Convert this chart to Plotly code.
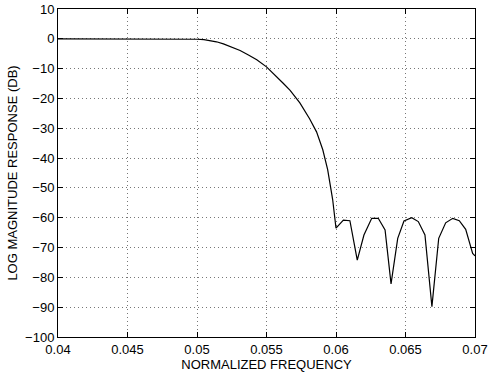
import plotly.graph_objects as go

freq = [0.040, 0.042, 0.044, 0.046, 0.048, 0.0487, 0.0495, 0.0500, 0.0505, 0.0509,
        0.0514, 0.0519, 0.0525, 0.0531, 0.0537, 0.0543, 0.0550, 0.0557, 0.0562,
        0.0567, 0.0574, 0.0581, 0.0586, 0.05905, 0.0594, 0.05964, 0.05976, 0.0600,
        0.06053, 0.0610, 0.06153, 0.06201, 0.06257, 0.06304, 0.06353, 0.06396,
        0.06444, 0.06489, 0.06545, 0.06592, 0.0664, 0.0669, 0.06739, 0.06789,
        0.0684, 0.06887, 0.06933, 0.06983, 0.0700]
mag_db = [0.0, 0.0, -0.03, -0.03, 0.0, -0.05, -0.1, -0.15, -0.3, -0.5,
          -1.0, -1.7, -2.7, -3.9, -5.4, -7.0, -9.4, -12.5, -14.9,
          -17.3, -21.5, -26.8, -31.2, -37.2, -43.9, -50.6, -53.9, -63.5,
          -60.8, -61.0, -74.2, -65.8, -60.2, -60.2, -64.1, -82.2,
          -66.9, -61.1, -60.0, -61.3, -65.8, -89.8, -66.9, -61.7,
          -60.2, -61.0, -63.9, -72.0, -72.8]

x_ticks = [0.04, 0.045, 0.05, 0.055, 0.06, 0.065, 0.07]
x_labels = ["0.04", "0.045", "0.05", "0.055", "0.06", "0.065", "0.07"]
y_ticks = [10, 0, -10, -20, -30, -40, -50, -60, -70, -80, -90, -100]
y_labels = ["10", "0", "\u221210", "\u221220", "\u221230", "\u221240", "\u221250",
            "\u221260", "\u221270", "\u221280", "\u221290", "\u2212100"]

font = dict(family="Liberation Sans, Arial, sans-serif", size=13, color="black")

fig = go.Figure()
fig.add_trace(go.Scatter(x=freq, y=mag_db, mode="lines",
                         line=dict(color="black", width=1.2),
                         showlegend=False))

axis_common = dict(showline=True, linecolor="black", linewidth=1, mirror="ticks",
                   ticks="inside", ticklen=5, tickcolor="black", showgrid=True,
                   gridcolor="#777777", griddash="1px,3px", gridwidth=1, zeroline=False,
                   tickfont=font, automargin=False)

fig.update_xaxes(range=[0.04, 0.07], tickvals=x_ticks, ticktext=x_labels,
                 title=dict(text="NORMALIZED FREQUENCY", font=font, standoff=0),
                 **axis_common)
fig.update_yaxes(range=[-100, 10], tickvals=y_ticks, ticktext=y_labels,
                 title=dict(text="LOG MAGNITUDE RESPONSE (DB)", font=font, standoff=4),
                 **axis_common)

fig.update_layout(width=493, height=375, margin=dict(l=58, r=18, t=9, b=38),
                  paper_bgcolor="white", plot_bgcolor="white", font=font)

fig.write_html("out.html")
